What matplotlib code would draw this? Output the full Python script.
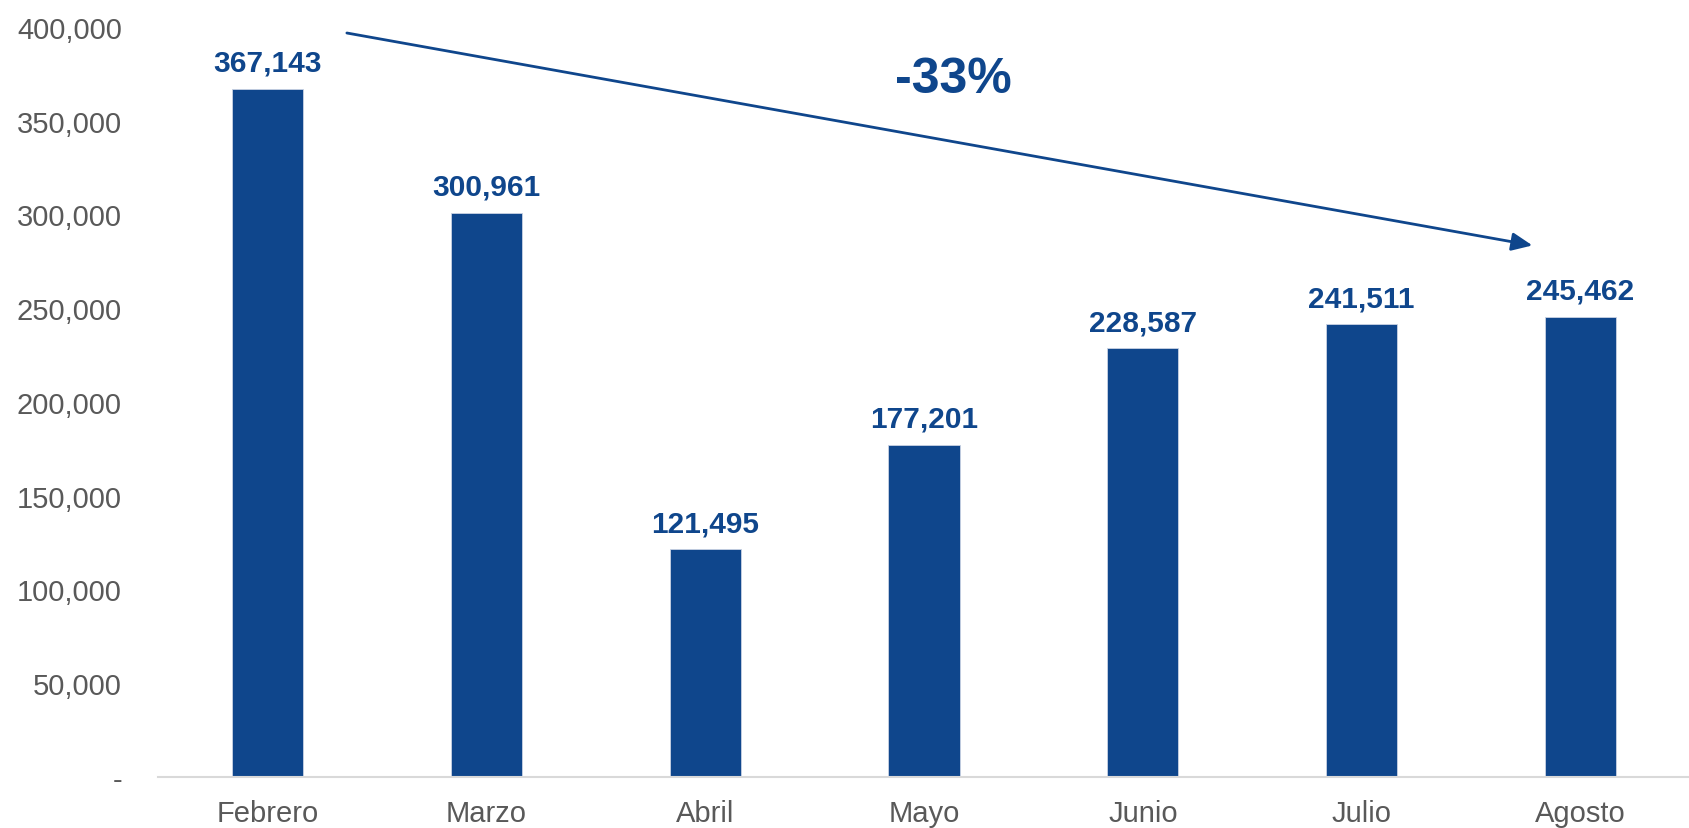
import matplotlib
matplotlib.use("Agg")
import matplotlib.pyplot as plt
from matplotlib.ticker import FuncFormatter

months = ["Febrero", "Marzo", "Abril", "Mayo", "Junio", "Julio", "Agosto"]
values = [367143, 300961, 121495, 177201, 228587, 241511, 245462]
yticks = [0, 50000, 100000, 150000, 200000, 250000, 300000, 350000, 400000]
change_label = "-33%"

plt.rcParams['font.family'] = ['Liberation Sans', 'DejaVu Sans']
BLUE = "#0F468C"
GRAY = "#595959"

W, H = 1690, 829
fig = plt.figure(figsize=(W / 100, H / 100), dpi=100)
left, right, top, bottom = 158, 1690, 28, 778
ax = fig.add_axes([left / W, (H - bottom) / H, (right - left) / W, (bottom - top) / H])

x = list(range(len(months)))
ax.bar(x, values, width=0.325, color=BLUE, edgecolor="#c9d3e3", linewidth=0.6, zorder=2)
for xi, v in zip(x, values):
    ax.annotate(f"{v:,}", (xi, v), xytext=(0, 8.5), textcoords="offset points",
                ha="center", va="bottom", fontsize=21.5, fontweight="bold", color=BLUE)

ax.set_xlim(-0.5, len(months) - 0.5)
ax.set_ylim(0, 400000)
ax.set_yticks(yticks)
ax.yaxis.set_major_formatter(FuncFormatter(lambda v, p: "-" if v == 0 else f"{int(v):,}"))
ax.set_xticks(x)
ax.set_xticklabels(months)
ax.tick_params(axis="y", length=0, pad=26, labelsize=21, labelcolor=GRAY)
ax.tick_params(axis="x", length=0, pad=15.5, labelsize=21, labelcolor=GRAY)
for s in ["top", "right", "left"]:
    ax.spines[s].set_visible(False)
ax.spines["bottom"].set_color("#D9D9D9")
ax.spines["bottom"].set_linewidth(1.5)

# trend arrow from above Febrero to above Agosto
ax.annotate("", xy=(5.78, 283500), xytext=(0.363, 396800),
            arrowprops=dict(arrowstyle="-|>,head_length=1.25,head_width=0.55",
                            color=BLUE, lw=2, shrinkA=0, shrinkB=0),
            annotation_clip=False)
ax.text(3.135, 372300, change_label, ha="center", va="center", fontsize=36,
        fontweight="bold", color=BLUE)

fig.savefig("out.png", dpi=100)
